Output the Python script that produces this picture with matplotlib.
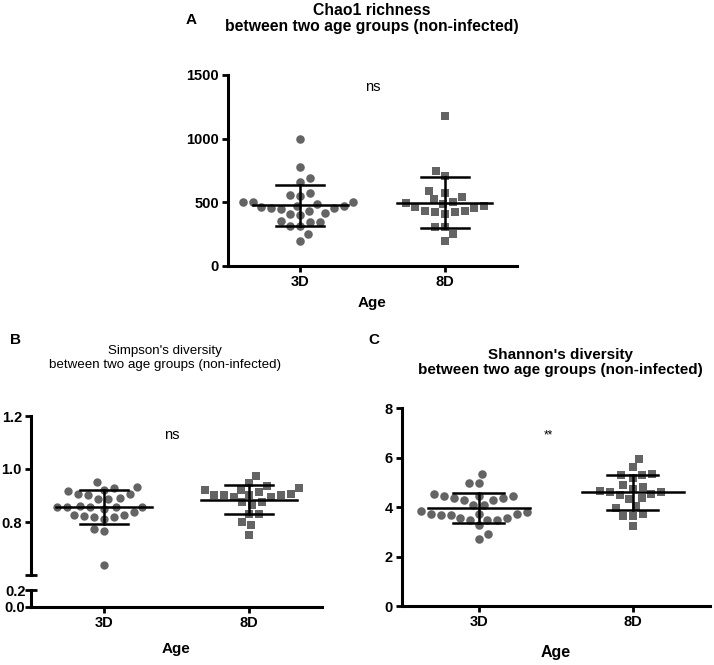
import numpy as np
import matplotlib.pyplot as plt

plt.rcParams['font.family'] = ['Liberation Sans', 'DejaVu Sans']

# data -----------------------------------
groups = ['3D', '8D']

chao1_3d = [1000, 774, 692, 658, 571, 547, 555, 471, 461, 450, 434, 503, 503, 503,
            445, 455, 466, 487, 395, 347, 313, 413, 408, 313, 345, 353, 247, 197]
chao1_8d = [1177, 747, 706, 590, 574, 543, 522, 501, 485, 459, 428, 422, 407, 422,
            433, 454, 470, 491, 307, 302, 249, 197]

simpson_3d = [0.951, 0.929, 0.932, 0.916, 0.907, 0.902, 0.907, 0.922, 0.885, 0.891,
              0.887, 0.857, 0.857, 0.857, 0.857, 0.862, 0.850, 0.827, 0.820, 0.837,
              0.812, 0.820, 0.822, 0.827, 0.772, 0.766, 0.639, 0.855]
simpson_8d = [0.975, 0.947, 0.929, 0.937, 0.920, 0.912, 0.922, 0.902, 0.902, 0.895,
              0.895, 0.902, 0.902, 0.905, 0.875, 0.866, 0.875, 0.830, 0.830, 0.800,
              0.787, 0.750]

shannon_3d = [5.34, 4.96, 4.96, 4.53, 4.45, 4.28, 4.39, 4.39, 4.45, 4.28, 4.45, 4.07,
              4.07, 3.85, 3.80, 3.72, 3.69, 3.58, 3.50, 3.50, 3.28, 3.50, 3.55, 3.69,
              3.72, 3.72, 2.93, 2.73]
shannon_8d = [5.93, 5.61, 5.31, 5.18, 5.31, 5.34, 4.91, 4.80, 4.66, 4.61, 4.50, 4.34,
              4.39, 4.55, 4.61, 4.74, 3.96, 4.04, 3.66, 3.72, 3.66, 3.23]

W, H = 714, 665
fig = plt.figure(figsize=(W / 100, H / 100), dpi=100)
GRAY = '#646464'
TICK_FS = 10.5


def px_axes(l, t, r, b):
    # axes placed by pixel edges
    return fig.add_axes([l / W, 1 - b / H, (r - l) / W, (b - t) / H])


def style(ax, bottom=True):
    for s in ['top', 'right']:
        ax.spines[s].set_visible(False)
    for s in ['left', 'bottom']:
        ax.spines[s].set_linewidth(2.2)
    ax.tick_params(axis='both', length=4, width=2, labelsize=TICK_FS, pad=2.5)
    for lab in ax.get_yticklabels() + ax.get_xticklabels():
        lab.set_fontweight('bold')
    if not bottom:
        ax.spines['bottom'].set_visible(False)
        ax.set_xticks([])


def swarm(ax, vals, xc, d=10.0):
    # simple beeswarm in pixel space
    vals = np.asarray(vals, float)
    pix = ax.transData.transform(np.column_stack([np.full(len(vals), xc), vals]))
    ppu = ax.transData.transform((1, 0))[0] - ax.transData.transform((0, 0))[0]
    ys = pix[:, 1]
    xs = np.zeros(len(vals))
    placed = []
    cands = np.arange(0, 80, 0.5)
    for n, i in enumerate(np.argsort(ys)):
        sign = 1 if n % 2 else -1
        for c in cands:
            ok = False
            for off in (sign * c, -sign * c):
                if all((off - px) ** 2 + (ys[i] - py) ** 2 >= d ** 2 for px, py in placed):
                    ok = True
                    break
            if ok:
                break
        placed.append((off, ys[i]))
        xs[i] = xc + off / ppu
    return xs


def group(ax, vals, xc, marker, ms):
    xs = swarm(ax, vals, xc)
    ax.scatter(xs, vals, s=ms, marker=marker, color=GRAY, linewidths=0, zorder=2,
               clip_on=False)
    m = np.mean(vals)
    sd = np.std(vals, ddof=1)
    ax.plot([xc - 0.33, xc + 0.33], [m, m], color='black', lw=1.8, zorder=3)
    ax.plot([xc, xc], [m - sd, m + sd], color='black', lw=1.8, zorder=3)
    for yy in (m - sd, m + sd):
        ax.plot([xc - 0.165, xc + 0.165], [yy, yy], color='black', lw=1.8, zorder=3)


def xlabels(ax):
    ax.set_xlim(-0.5, 1.5)
    ax.set_xticks([0, 1])
    ax.set_xticklabels(groups)


def ftext(x, y, s, **kw):
    fig.text(x / W, 1 - y / H, s, **kw)


# A: Chao1 -------------
axA = px_axes(228, 75, 517, 265.7)
axA.set_ylim(0, 1500)
axA.set_yticks([0, 500, 1000, 1500])
xlabels(axA)
style(axA)
group(axA, chao1_3d, 0, 'o', 38)
group(axA, chao1_8d, 1, 's', 32)
axA.text(0.5, 1408, 'ns', ha='center', va='center', fontsize=10.5)
ftext(191, 20, 'A', fontsize=11, weight='bold', ha='center', va='center')
ftext(372, 3, 'Chao1 richness\nbetween two age groups (non-infected)', fontsize=11.3,
      weight='bold', ha='center', va='top', linespacing=1.1)
ftext(372, 303, 'Age', fontsize=11, weight='bold', ha='center', va='center')

# B: Simpson (broken axis) -------------
axB = px_axes(31, 416, 322, 575)
axB.set_ylim(0.6, 1.2)
axB.set_yticks([0.8, 1.0, 1.2])
axB.set_yticklabels(['0.8', '1.0', '1.2'])
axB.set_xlim(-0.5, 1.5)
style(axB, bottom=False)
axB.set_yticks([0.6], minor=True)
axB.tick_params(axis='y', which='minor', length=8, width=2, direction='inout')
group(axB, simpson_3d, 0, 'o', 36)
group(axB, simpson_8d, 1, 's', 32)
axB.text(0.47, 1.129, 'ns', ha='center', va='center', fontsize=10.5)

axB2 = px_axes(31, 590, 322, 606.7)
axB2.set_ylim(0, 0.2)
axB2.set_yticks([0.0, 0.2])
axB2.set_yticklabels(['0.0', '0.2'])
xlabels(axB2)
style(axB2)
axB2.tick_params(axis='y', length=8, width=2, direction='inout', pad=0)

ftext(15, 340, 'B', fontsize=11, weight='bold', ha='center', va='center')
ftext(165, 345, "Simpson's diversity\nbetween two age groups (non-infected)", fontsize=9.6,
      ha='center', va='top', linespacing=1.25)
ftext(176, 649, 'Age', fontsize=11, weight='bold', ha='center', va='center')

# C: Shannon -------------
axC = px_axes(401.7, 408.3, 710, 606)
axC.set_ylim(0, 8)
axC.set_yticks([0, 2, 4, 6, 8])
xlabels(axC)
style(axC)
group(axC, shannon_3d, 0, 'o', 38)
group(axC, shannon_8d, 1, 's', 32)
axC.text(0.45, 6.92, '**', ha='center', va='center', fontsize=8.5)
ftext(374, 340, 'C', fontsize=11, weight='bold', ha='center', va='center')
ftext(560, 348, "Shannon's diversity\nbetween two age groups (non-infected)", fontsize=11,
      weight='bold', ha='center', va='top', linespacing=1.1)
ftext(556, 653, 'Age', fontsize=11.5, weight='bold', ha='center', va='center')

plt.savefig('out.png', dpi=100)
